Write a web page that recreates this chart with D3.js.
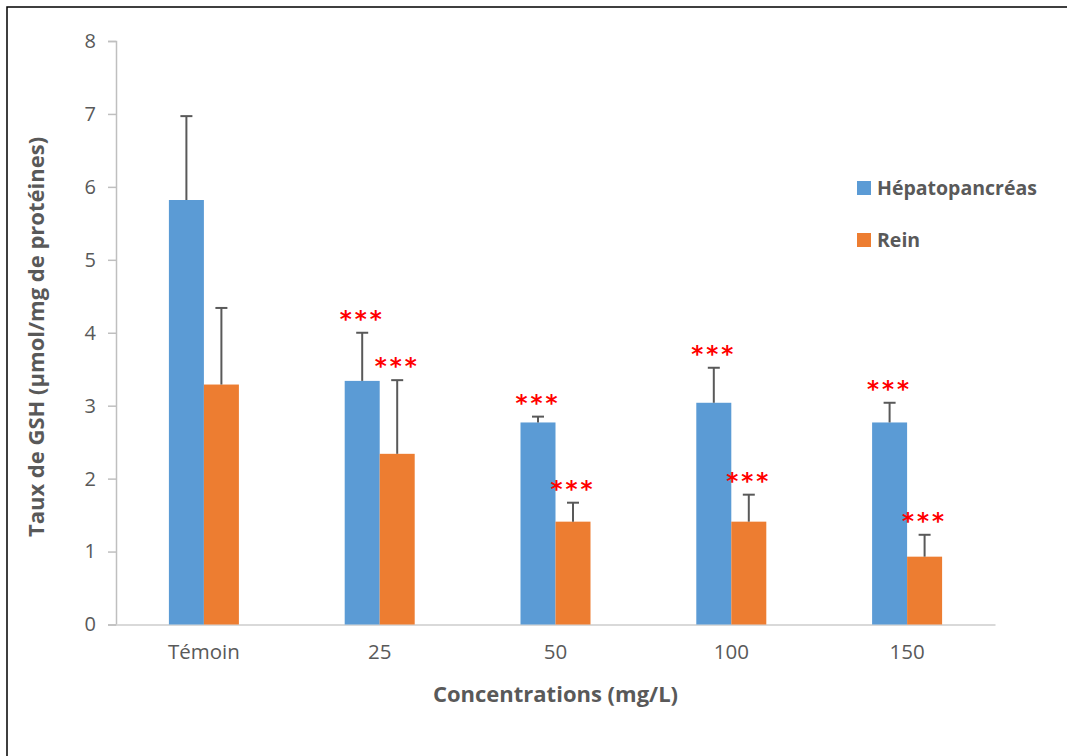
<!DOCTYPE html>
<html>
<head>
<meta charset="utf-8">
<script src="https://cdn.jsdelivr.net/npm/d3@7"></script>
<style>
  body { margin: 0; background: #fff; }
  text { font-family: "Open Sans", sans-serif; }
</style>
</head>
<body>
<script>
// data
var categories = ["Témoin", "25", "50", "100", "150"];
var seriesNames = ["Hépatopancréas", "Rein"];
var hepato = [5.82, 3.34, 2.77, 3.04, 2.77];
var hepatoErr = [1.15, 0.66, 0.08, 0.48, 0.27];
var rein = [3.29, 2.34, 1.41, 1.41, 0.93];
var reinErr = [1.05, 1.01, 0.26, 0.37, 0.30];
var hepatoStars = ["", "***", "***", "***", "***"];
var reinStars = ["", "***", "***", "***", "***"];
var yTicks = [0, 1, 2, 3, 4, 5, 6, 7, 8];

var colors = ["#5b9bd5", "#ed7d31"];
var grey = "#595959";

var width = 1067, height = 756;
var margin = {top: 41, right: 72, bottom: 132, left: 116};

var svg = d3.select("body")
            .append("svg")
            .attr("width", width)
            .attr("height", height);

// frame round the picture (only top and left visible)
svg.append("rect")
    .attr("x", 7).attr("y", 7)
    .attr("width", width + 20).attr("height", height + 20)
    .attr("fill", "none")
    .attr("stroke", "#000")
    .attr("stroke-width", 1.5);

var x0 = d3.scaleBand()
    .domain(categories)
    .range([margin.left, width - margin.right]);

var x1 = d3.scaleBand()
    .domain(seriesNames)
    .range([0, 70]);

var y = d3.scaleLinear()
    .domain([0, 8])
    .range([height - margin.bottom + 0.5, margin.top]);

// y axis
var yAxis = svg.append("g")
    .attr("transform", "translate(" + margin.left + ",0)")
    .call(d3.axisLeft(y).tickValues(yTicks).tickSize(8).tickPadding(12));
yAxis.select(".domain").attr("stroke", "#bfbfbf").attr("stroke-width", 1.5);
yAxis.selectAll(".tick line").attr("stroke", "#bfbfbf").attr("stroke-width", 1.5);
yAxis.selectAll(".tick text")
    .attr("fill", grey)
    .style("font-size", "20px");

// x axis
var xAxis = svg.append("g")
    .attr("transform", "translate(0," + y(0) + ")")
    .call(d3.axisBottom(x0).tickSize(0).tickPadding(20));
xAxis.select(".domain").attr("stroke", "#d9d9d9").attr("stroke-width", 2);
xAxis.selectAll(".tick text")
    .attr("fill", grey)
    .style("font-size", "20.5px");

var series = [
    {name: seriesNames[0], values: hepato, err: hepatoErr, stars: hepatoStars, color: colors[0]},
    {name: seriesNames[1], values: rein, err: reinErr, stars: reinStars, color: colors[1]}
];

series.forEach(function(s) {
    var g = svg.append("g");
    var cx = function(d, i) {
        return x0(categories[i]) + x0.bandwidth() / 2 - 35 + x1(s.name) + x1.bandwidth() / 2;
    };

    g.selectAll("rect")
        .data(s.values)
      .enter().append("rect")
        .attr("x", function(d, i) { return x0(categories[i]) + x0.bandwidth() / 2 - 35 + x1(s.name); })
        .attr("y", function(d) { return y(d); })
        .attr("width", x1.bandwidth())
        .attr("height", function(d) { return y(0) - y(d); })
        .attr("fill", s.color);

    // error bars
    g.selectAll("line.err")
        .data(s.values)
      .enter().append("line")
        .attr("class", "err")
        .attr("x1", cx).attr("x2", cx)
        .attr("y1", function(d) { return y(d); })
        .attr("y2", function(d, i) { return y(d + s.err[i]); })
        .attr("stroke", grey)
        .attr("stroke-width", 2);

    g.selectAll("line.cap")
        .data(s.values)
      .enter().append("line")
        .attr("class", "cap")
        .attr("x1", function(d, i) { return cx(d, i) - 6; })
        .attr("x2", function(d, i) { return cx(d, i) + 6; })
        .attr("y1", function(d, i) { return y(d + s.err[i]); })
        .attr("y2", function(d, i) { return y(d + s.err[i]); })
        .attr("stroke", grey)
        .attr("stroke-width", 2);

    // significance stars
    g.selectAll("text.star")
        .data(s.values)
      .enter().append("text")
        .attr("class", "star")
        .attr("x", cx)
        .attr("y", function(d, i) { return y(d + s.err[i]) - 6; })
        .attr("text-anchor", "middle")
        .attr("fill", "#ff0000")
        .style("font-size", "23px")
        .style("font-weight", "bold")
        .style("letter-spacing", "3px")
        .style("font-family", "'DejaVu Sans', sans-serif")
        .text(function(d, i) { return s.stars[i]; });
});

// legend
var legend = svg.append("g")
    .selectAll("g")
    .data(series)
  .enter().append("g")
    .attr("transform", function(d, i) { return "translate(857," + (181 + i * 52) + ")"; });

legend.append("rect")
    .attr("width", 14).attr("height", 14)
    .attr("fill", function(d) { return d.color; });

legend.append("text")
    .attr("x", 20).attr("y", 14)
    .attr("fill", grey)
    .style("font-size", "19.5px")
    .style("font-weight", "bold")
    .text(function(d) { return d.name; });

// axis titles
svg.append("text")
    .attr("x", (margin.left + width - margin.right) / 2)
    .attr("y", 702)
    .attr("text-anchor", "middle")
    .attr("fill", grey)
    .style("font-size", "22px")
    .style("font-weight", "bold")
    .text("Concentrations (mg/L)");

svg.append("text")
    .attr("transform", "translate(44," + 337 + ") rotate(-90)")
    .attr("text-anchor", "middle")
    .attr("fill", grey)
    .style("font-size", "22px")
    .style("font-weight", "bold")
    .text("Taux de GSH (µmol/mg de protéines)");
</script>
</body>
</html>
